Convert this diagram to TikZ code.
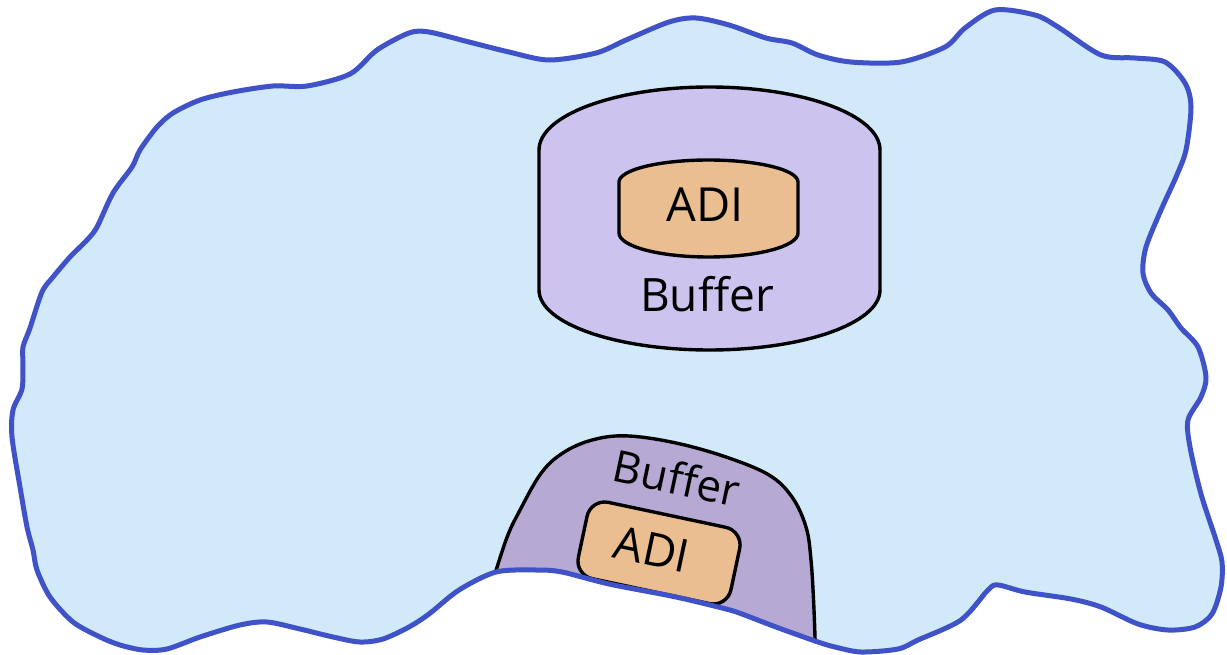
\documentclass[tikz,border=0pt]{standalone}
\usepackage{fontspec}
\setmainfont{Open Sans}
\definecolor{poolfill}{RGB}{209,233,249}
\definecolor{poolline}{RGB}{64,82,200}
\definecolor{buffill}{RGB}{204,196,238}
\definecolor{buffilldark}{RGB}{182,170,212}
\definecolor{adifill}{RGB}{235,190,145}
\tikzset{
  poolstroke/.style={draw=poolline, line width=5pt, line join=round},
  shapeline/.style={draw=black, line width=3.4pt, line join=round},
  label/.style={inner sep=0pt, text=black},
}
\def\poolpath{plot[smooth cycle, tension=0.5] coordinates {
 (30,328) (42,292) (53,277) (70,257) (87,240) (97,227) (113,193)
 (132,167) (140,150) (157,127) (173,113) (200,100) (233,92) (273,86) (307,86)
 (350,74) (377,50) (409,33) (429,32) (469,42) (509,52) (549,60) (596,53)
 (626,40) (669,22) (696,18) (729,25) (766,38) (792,43) (818,55) (851,62)
 (901,62) (945,47) (965,28) (995,10) (1035,15) (1058,27) (1101,55) (1135,58)
 (1165,62) (1185,83) (1191,107) (1186,150) (1176,177) (1161,210) (1146,247)
 (1143,273) (1151,293) (1168,310) (1181,328) (1198,347) (1206,377) (1201,397)
 (1188,420) (1190,447) (1201,494) (1216,540) (1222,562) (1221,587) (1212,614)
 (1195,627) (1168,630) (1138,624) (1101,607) (1071,599) (1025,592) (998,585)
 (988,590) (961,620) (918,640) (898,649) (861,652) (835,647) (818,642)
 (776,627) (742,614) (726,609) (676,597) (609,584) (562,572) (536,570)
 (496,572) (459,590) (429,614) (409,627) (383,639) (360,642) (333,637)
 (300,629) (267,622) (240,625) (200,637) (167,649) (143,650) (120,645)
 (100,637) (73,622) (50,597) (37,570) (33,550) (27,527) (20,487) (12,437)
 (13,410) (22,389) (23,364) (23,347)}}
\begin{document}
\begin{tikzpicture}[x=1pt, y=-1pt]
\useasboundingbox (0,0) rectangle (1227,655);

% memory pool
\fill[poolfill] \poolpath;

% buffer partly sunk below the lower edge of the pool
\begin{scope}
  \clip \poolpath;
  \path[shapeline, fill=buffilldark]
    plot[smooth, tension=0.6] coordinates {
      (490,590) (506,540) (519,512) (542,472) (566,451) (596,439) (629,436)
      (676,443) (726,457) (769,475) (792,497) (806,527) (811,560) (814,610)
      (816,670)} -- (490,670) -- cycle;
  \begin{scope}[shift={(659,553)}, rotate=-12]
    \draw[shapeline, fill=adifill, rounded corners=18pt] (-78,-39) rectangle (78,39);
  \end{scope}
  \node[label, rotate=-12, font=\fontsize{46}{46}\selectfont] (lowadi) at (652,549) {ADI};
  \node[label, rotate=-12, font=\fontsize{44}{44}\selectfont] (lowbuf) at (677,478) {Buffer};
\end{scope}

\draw[poolstroke] \poolpath;

% buffer drawn as a cylinder
\draw[shapeline, fill=buffill]
  (539,150) -- (539,290)
  arc[start angle=180, end angle=360, x radius=170.5pt, y radius=60pt]
  -- (880,150)
  arc[start angle=0, end angle=180, x radius=170.5pt, y radius=63pt] -- cycle;
\draw[shapeline, fill=adifill]
  (619,182) -- (619,233)
  arc[start angle=180, end angle=360, x radius=89.5pt, y radius=24pt]
  -- (798,182)
  arc[start angle=0, end angle=180, x radius=89.5pt, y radius=22pt] -- cycle;
\node[label, font=\fontsize{47}{47}\selectfont] (topadi) at (705,205) {ADI};
\node[label, font=\fontsize{46}{46}\selectfont] (topbuf) at (707,294) {Buffer};
\end{tikzpicture}
\end{document}
